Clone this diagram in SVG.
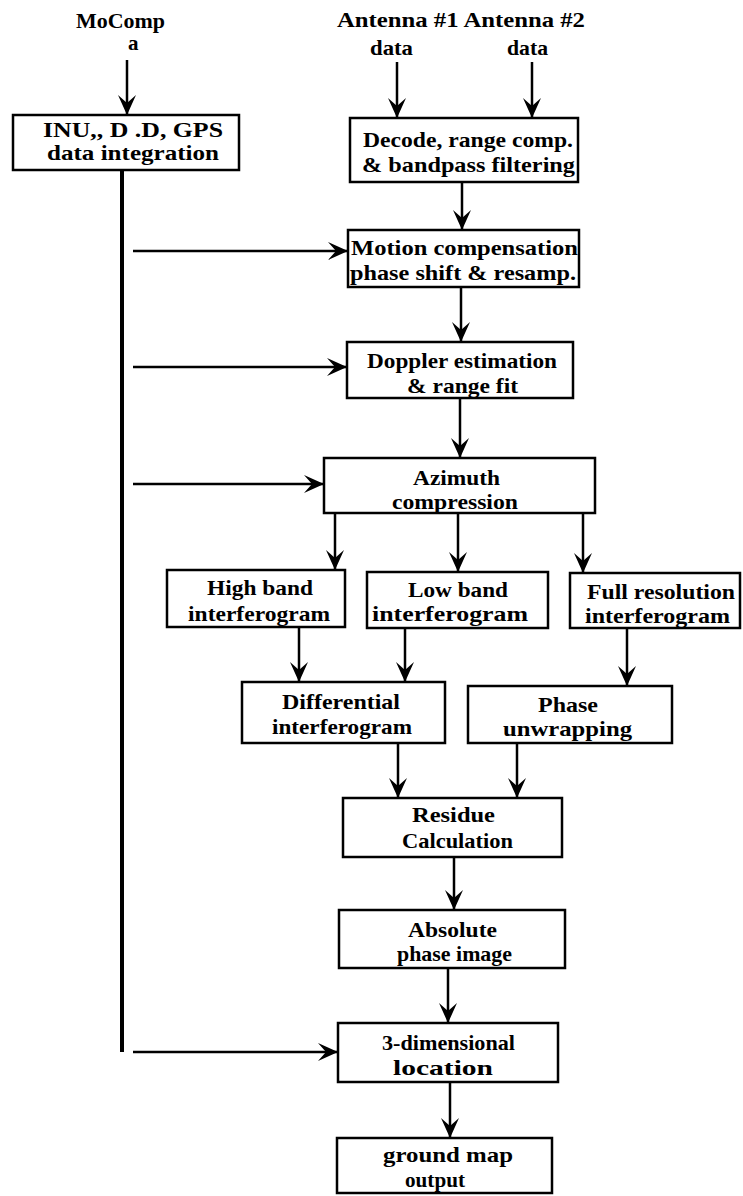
<svg xmlns="http://www.w3.org/2000/svg" width="743" height="1196" viewBox="0 0 743 1196">
<style>
  .box { fill: #fff; stroke: #000; stroke-width: 2.5; }
  .t { font-family: "Liberation Serif", "Times New Roman", serif; font-weight: bold; font-size: 21px; fill: #000; }
  .c { fill: none; stroke: #000; stroke-width: 2.5; }
  .bus { fill: none; stroke: #000; stroke-width: 4; }
</style>
<defs>
  <marker id="ah" markerUnits="userSpaceOnUse" markerWidth="24" markerHeight="22" viewBox="-22 -11 24 22" refX="0" refY="0" orient="auto">
    <path d="M0,0 L-20,-9 L-12,0 L-20,9 Z" fill="#000"/>
  </marker>
</defs>

<g id="labels">
  <text class="t" x="76" y="28" textLength="89" lengthAdjust="spacingAndGlyphs">MoComp</text>
  <text class="t" x="128" y="50">a</text>
  <text class="t" x="337" y="27" textLength="248" lengthAdjust="spacingAndGlyphs">Antenna #1 Antenna #2</text>
  <text class="t" x="370" y="55" textLength="43" lengthAdjust="spacingAndGlyphs">data</text>
  <text class="t" x="507" y="55" textLength="41" lengthAdjust="spacingAndGlyphs">data</text>
</g>

<g id="connectors">
  <line class="bus" x1="122" y1="170" x2="122" y2="1052"/>
  <line class="c" x1="127" y1="60" x2="127" y2="115" marker-end="url(#ah)"/>
  <line class="c" x1="397" y1="62" x2="397" y2="118" marker-end="url(#ah)"/>
  <line class="c" x1="532" y1="62" x2="532" y2="118" marker-end="url(#ah)"/>
  <line class="c" x1="462" y1="182" x2="462" y2="230" marker-end="url(#ah)"/>
  <line class="c" x1="461" y1="287" x2="461" y2="342" marker-end="url(#ah)"/>
  <line class="c" x1="460" y1="398" x2="460" y2="458" marker-end="url(#ah)"/>
  <line class="c" x1="335" y1="513" x2="335" y2="570" marker-end="url(#ah)"/>
  <line class="c" x1="458" y1="513" x2="458" y2="572" marker-end="url(#ah)"/>
  <line class="c" x1="583" y1="513" x2="583" y2="573" marker-end="url(#ah)"/>
  <line class="c" x1="299" y1="627" x2="299" y2="682" marker-end="url(#ah)"/>
  <line class="c" x1="405" y1="628" x2="405" y2="682" marker-end="url(#ah)"/>
  <line class="c" x1="627" y1="628" x2="627" y2="686" marker-end="url(#ah)"/>
  <line class="c" x1="398" y1="743" x2="398" y2="798" marker-end="url(#ah)"/>
  <line class="c" x1="517" y1="743" x2="517" y2="798" marker-end="url(#ah)"/>
  <line class="c" x1="454" y1="857" x2="454" y2="910" marker-end="url(#ah)"/>
  <line class="c" x1="448" y1="968" x2="448" y2="1023" marker-end="url(#ah)"/>
  <line class="c" x1="450" y1="1082" x2="450" y2="1138" marker-end="url(#ah)"/>
  <line class="c" x1="133" y1="251" x2="348" y2="251" marker-end="url(#ah)"/>
  <line class="c" x1="133" y1="367" x2="347" y2="367" marker-end="url(#ah)"/>
  <line class="c" x1="133" y1="484" x2="324" y2="484" marker-end="url(#ah)"/>
  <line class="c" x1="133" y1="1052" x2="338" y2="1052" marker-end="url(#ah)"/>
</g>

<g id="inu">
  <rect class="box" x="13" y="115" width="226" height="55"/>
  <text class="t" x="43" y="137" textLength="180" lengthAdjust="spacingAndGlyphs">INU,, D .D, GPS</text>
  <text class="t" x="47" y="160" textLength="172" lengthAdjust="spacingAndGlyphs">data integration</text>
</g>
<g id="decode">
  <rect class="box" x="350" y="118" width="228" height="64"/>
  <text class="t" x="363" y="147" textLength="210" lengthAdjust="spacingAndGlyphs">Decode, range comp.</text>
  <text class="t" x="362" y="172" textLength="213" lengthAdjust="spacingAndGlyphs">&amp; bandpass filtering</text>
</g>
<g id="motion">
  <rect class="box" x="348" y="230" width="231" height="57"/>
  <text class="t" x="351" y="255" textLength="227" lengthAdjust="spacingAndGlyphs">Motion compensation</text>
  <text class="t" x="350" y="280" textLength="226" lengthAdjust="spacingAndGlyphs">phase shift &amp; resamp.</text>
</g>
<g id="doppler">
  <rect class="box" x="347" y="342" width="226" height="56"/>
  <text class="t" x="367" y="368" textLength="190" lengthAdjust="spacingAndGlyphs">Doppler estimation</text>
  <text class="t" x="407" y="393" textLength="111" lengthAdjust="spacingAndGlyphs">&amp; range fit</text>
</g>
<g id="azimuth">
  <rect class="box" x="324" y="458" width="271" height="55"/>
  <text class="t" x="413" y="485" textLength="87" lengthAdjust="spacingAndGlyphs">Azimuth</text>
  <text class="t" x="392" y="509" textLength="126" lengthAdjust="spacingAndGlyphs">compression</text>
</g>
<g id="highband">
  <rect class="box" x="167" y="570" width="178" height="57"/>
  <text class="t" x="207" y="595" textLength="106" lengthAdjust="spacingAndGlyphs">High band</text>
  <text class="t" x="188" y="621" textLength="142" lengthAdjust="spacingAndGlyphs">interferogram</text>
</g>
<g id="lowband">
  <rect class="box" x="367" y="572" width="181" height="56"/>
  <text class="t" x="408" y="597" textLength="100" lengthAdjust="spacingAndGlyphs">Low band</text>
  <text class="t" x="372" y="621" textLength="156" lengthAdjust="spacingAndGlyphs">interferogram</text>
</g>
<g id="fullres">
  <rect class="box" x="570" y="573" width="170" height="55"/>
  <text class="t" x="587" y="599" textLength="148" lengthAdjust="spacingAndGlyphs">Full resolution</text>
  <text class="t" x="585" y="623" textLength="145" lengthAdjust="spacingAndGlyphs">interferogram</text>
</g>
<g id="differential">
  <rect class="box" x="242" y="682" width="203" height="61"/>
  <text class="t" x="282" y="709" textLength="118" lengthAdjust="spacingAndGlyphs">Differential</text>
  <text class="t" x="272" y="734" textLength="140" lengthAdjust="spacingAndGlyphs">interferogram</text>
</g>
<g id="unwrapping">
  <rect class="box" x="468" y="686" width="204" height="57"/>
  <text class="t" x="538" y="712" textLength="60" lengthAdjust="spacingAndGlyphs">Phase</text>
  <text class="t" x="503" y="736" textLength="129" lengthAdjust="spacingAndGlyphs">unwrapping</text>
</g>
<g id="residue">
  <rect class="box" x="343" y="798" width="219" height="59"/>
  <text class="t" x="412" y="822" textLength="83" lengthAdjust="spacingAndGlyphs">Residue</text>
  <text class="t" x="402" y="848" textLength="111" lengthAdjust="spacingAndGlyphs">Calculation</text>
</g>
<g id="absolute">
  <rect class="box" x="339" y="910" width="226" height="58"/>
  <text class="t" x="408" y="937" textLength="89" lengthAdjust="spacingAndGlyphs">Absolute</text>
  <text class="t" x="397" y="961" textLength="115" lengthAdjust="spacingAndGlyphs">phase image</text>
</g>
<g id="location">
  <rect class="box" x="338" y="1023" width="220" height="59"/>
  <text class="t" x="382" y="1050" textLength="133" lengthAdjust="spacingAndGlyphs">3-dimensional</text>
  <text class="t" x="393" y="1075" textLength="100" lengthAdjust="spacingAndGlyphs">location</text>
</g>
<g id="groundmap">
  <rect class="box" x="337" y="1138" width="215" height="55"/>
  <text class="t" x="383" y="1162" textLength="130" lengthAdjust="spacingAndGlyphs">ground map</text>
  <text class="t" x="405" y="1187" textLength="60" lengthAdjust="spacingAndGlyphs">output</text>
</g>
</svg>
